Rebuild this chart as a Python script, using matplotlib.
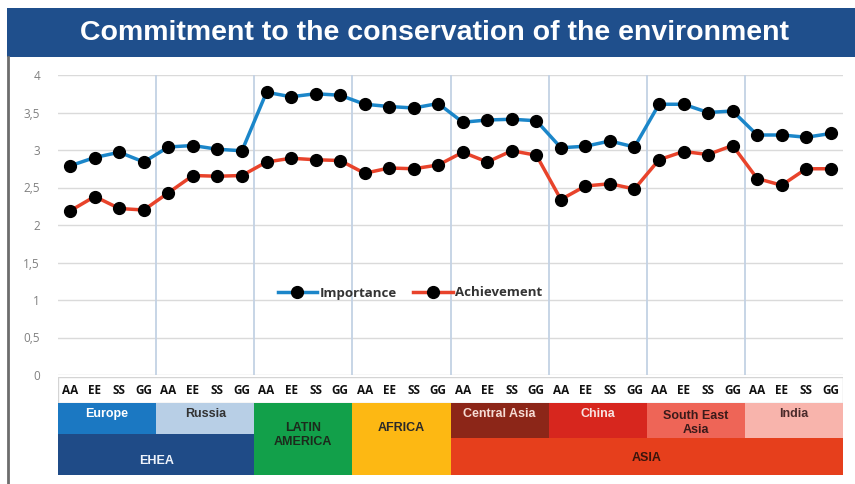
import matplotlib
matplotlib.use("Agg")
import matplotlib.pyplot as plt
from matplotlib.patches import Rectangle
from matplotlib.lines import Line2D

W, H, DPI = 855, 484, 100

# ---- data -------------------------------------------------------------
codes = ["AA", "EE", "SS", "GG"]
regions = ["Europe", "Russia", "LATIN\nAMERICA", "AFRICA",
           "Central Asia", "China", "South East\nAsia", "India"]
tick_labels = codes * len(regions)

importance = [2.79, 2.90, 2.97, 2.84, 3.04, 3.06, 3.01, 2.99,
              3.77, 3.71, 3.75, 3.73, 3.61, 3.58, 3.56, 3.62,
              3.37, 3.40, 3.41, 3.39, 3.03, 3.05, 3.12, 3.04,
              3.61, 3.61, 3.50, 3.52, 3.20, 3.20, 3.17, 3.22]
achievement = [2.19, 2.38, 2.22, 2.20, 2.43, 2.66, 2.65, 2.66,
               2.84, 2.89, 2.87, 2.86, 2.69, 2.76, 2.75, 2.80,
               2.97, 2.84, 2.99, 2.93, 2.34, 2.52, 2.55, 2.48,
               2.87, 2.98, 2.94, 3.06, 2.62, 2.53, 2.75, 2.75]

y_ticks = [0, 0.5, 1, 1.5, 2, 2.5, 3, 3.5, 4]
y_tick_labels = ["0", "0,5", "1", "1,5", "2", "2,5", "3", "3,5", "4"]

super_regions = ["EHEA", "ASIA"]
title = "Commitment to the conservation of the environment"

# ---- styling ----------------------------------------------------------
BLUE = "#1b86c9"
RED = "#e8432b"
GRID = "#dadada"
SEP = "#c3d2e4"
region_colors = ["#1b78c2", "#b8cfe6", "#12a04a", "#fdb813",
                 "#8c2618", "#d7261e", "#ee6557", "#f8b4ac"]
region_text = ["white", "#333333", "#1c2a1c", "#2a2a2a",
               "#f6dcd4", "#f8e2e0", "#3a1a1a", "#4a2a2a"]
super_colors = ["#1f4b87", "#e63f1c"]
super_text = ["#eef3fb", "#3a150c"]
BOX_FS = 9

fig = plt.figure(figsize=(W / DPI, H / DPI), dpi=DPI)
fig.patch.set_facecolor("white")


def fy(py):
    return 1 - py / H


# title bar
fig.patches.append(Rectangle((7 / W, fy(57)), (W - 7) / W, 49 / H,
                             transform=fig.transFigure, facecolor="#1f4f8c",
                             edgecolor="none", zorder=0))
fig.text(434 / W, fy(33), title, color="white", fontsize=20.5,
         fontweight="bold", family="Liberation Sans", ha="center", va="center")
fig.lines.append(Line2D([7.5 / W, 7.5 / W], [0, fy(57)], transform=fig.transFigure,
                        color="#6d6d6d", lw=2))

# ---- main plot --------------------------------------------------------
ax = fig.add_axes([58 / W, fy(375), 785 / W, 300 / H])
n = len(tick_labels)
x = list(range(n))
ax.set_xlim(-0.5, n - 0.5)
ax.set_ylim(0, 4)
for s in ax.spines.values():
    s.set_visible(False)
ax.set_yticks(y_ticks)
ax.set_yticklabels(y_tick_labels, color="#808080", fontsize=8.5,
                   family="Open Sans")
ax.tick_params(axis="y", length=0, pad=13)
ax.set_xticks([])
for v in y_ticks:
    ax.axhline(v, color=GRID, lw=1, zorder=1)
for k in range(1, len(regions)):
    ax.axvline(4 * k - 0.5, color=SEP, lw=1.3, zorder=1)

ax.plot(x, importance, color=BLUE, lw=2.5, marker="o", ms=8.5,
        mfc="black", mec="black", label="Importance", zorder=3)
ax.plot(x, achievement, color=RED, lw=2.5, marker="o", ms=8.5,
        mfc="black", mec="black", label="Achievement", zorder=3)

leg = ax.legend(loc="center", bbox_to_anchor=((410 - 58) / 785, (375 - 293) / 300),
                ncol=2, frameon=False, handlelength=3.0, columnspacing=1.2,
                handletextpad=0.2,
                prop={"family": "Open Sans", "weight": "bold", "size": 9.5})
for t in leg.get_texts():
    t.set_color("#333333")

# ---- category band ----------------------------------------------------
band = fig.add_axes([58 / W, fy(475), 785 / W, 98 / H])
band.set_xlim(-0.5, n - 0.5)
band.set_ylim(0, 98)
band.axis("off")


def by(py):
    return 475 - py


# tick label row
band.add_patch(Rectangle((-0.5, by(403)), n, 26, facecolor="white",
                         edgecolor="#d4d4d4", lw=1))
for i, lab in enumerate(tick_labels):
    band.text(i, by(390), lab, ha="center", va="center", fontsize=8.5,
              fontweight="bold", family="Open Sans", color="#111111")

# region boxes
row_bottom = {0: 434, 1: 434, 2: 475, 3: 475, 4: 438, 5: 438, 6: 438, 7: 438}
for k, name in enumerate(regions):
    x0 = 4 * k - 0.5
    yb = row_bottom[k]
    band.add_patch(Rectangle((x0, by(yb)), 4, yb - 403,
                             facecolor=region_colors[k], edgecolor="none"))
    if "\n" in name and yb == 475:
        ty = 435
    elif "\n" in name:
        ty = 423
    elif yb == 475:
        ty = 428
    else:
        ty = 414
    band.text(x0 + 2, by(ty), name, ha="center", va="center", fontsize=BOX_FS,
              fontweight="bold", family="Liberation Sans", color=region_text[k],
              linespacing=1.3)

# super-region boxes
band.add_patch(Rectangle((-0.5, 0), 8, by(434), facecolor=super_colors[0],
                         edgecolor="none"))
band.text(3.5, by(461), super_regions[0], ha="center", va="center", fontsize=BOX_FS,
          fontweight="bold", family="Liberation Sans", color=super_text[0])
band.add_patch(Rectangle((15.5, 0), 16, by(438), facecolor=super_colors[1],
                         edgecolor="none"))
band.text(23.5, by(458), super_regions[1], ha="center", va="center", fontsize=BOX_FS,
          fontweight="bold", family="Liberation Sans", color=super_text[1])

fig.savefig("out.png", dpi=DPI)
